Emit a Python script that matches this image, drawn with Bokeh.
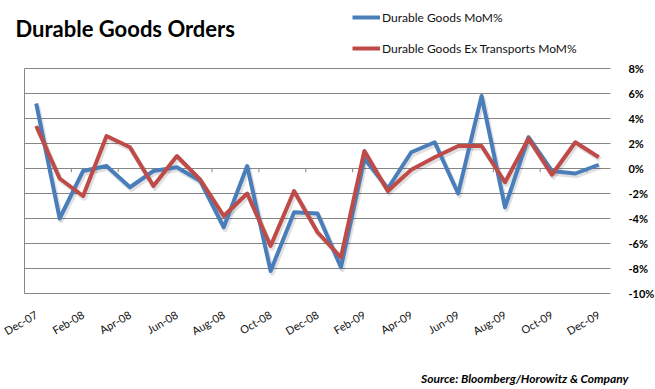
from bokeh.plotting import figure
from bokeh.models import (ColumnDataSource, Range1d, FixedTicker, Label,
                          Legend, LegendItem, CustomJSTickFormatter)
from bokeh.embed import file_html
from bokeh.resources import INLINE
import math

months = ["Dec-07", "Jan-08", "Feb-08", "Mar-08", "Apr-08", "May-08", "Jun-08", "Jul-08",
          "Aug-08", "Sep-08", "Oct-08", "Nov-08", "Dec-08", "Jan-09", "Feb-09", "Mar-09",
          "Apr-09", "May-09", "Jun-09", "Jul-09", "Aug-09", "Sep-09", "Oct-09", "Nov-09", "Dec-09"]
durable = [5.2, -4.0, -0.2, 0.2, -1.5, -0.2, 0.1, -1.0, -4.7, 0.2, -8.2, -3.5, -3.6,
           -7.9, 0.8, -1.6, 1.3, 2.1, -2.0, 5.8, -3.1, 2.5, -0.2, -0.4, 0.3]
ex_transport = [3.4, -0.8, -2.2, 2.6, 1.7, -1.4, 1.0, -0.9, -3.8, -2.0, -6.2, -1.8, -5.1,
                -7.1, 1.4, -1.8, -0.1, 0.9, 1.8, 1.8, -1.1, 2.4, -0.5, 2.1, 0.9]
y_ticks = [-10, -8, -6, -4, -2, 0, 2, 4, 6, 8]

idx = list(range(len(months)))
src = ColumnDataSource(dict(x=idx, m=months, a=durable, b=ex_transport))

BLUE = "#4A7EBB"
RED = "#BE4B48"
GRID = "#868686"
FONT = "Lato"

x_lo, x_hi = -0.5, len(months) - 0.5

# frame spans the whole canvas so title, legend and source can live inside it
p = figure(width=655, height=389, output_backend="svg", toolbar_location=None,
           x_range=Range1d(x_lo - 1.024, x_hi + 1.92), y_range=Range1d(-17.68, 13.44),
           y_axis_location="right", min_border_left=0, min_border_top=0,
           min_border_bottom=0, min_border_right=0)
p.outline_line_color = None
p.background_fill_color = "white"
p.border_fill_color = "white"
p.xgrid.visible = False
p.ygrid.visible = False

# horizontal gridlines and left axis line
p.segment(x0=[x_lo] * len(y_ticks), y0=y_ticks, x1=[x_hi] * len(y_ticks), y1=y_ticks,
          line_color=GRID, line_width=1)
p.segment(x0=[x_lo], y0=[y_ticks[0]], x1=[x_lo], y1=[y_ticks[-1]], line_color=GRID, line_width=1)

# small tick marks on the zero line between category pairs
tick_x = [i - 0.5 for i in idx[::2]]
p.segment(x0=tick_x, y0=[0] * len(tick_x), x1=tick_x, y1=[-0.3] * len(tick_x),
          line_color=GRID, line_width=1)

# right y axis, pinned to the right edge of the plot area
ya = p.yaxis[0]
ya.fixed_location = x_hi
ya.ticker = FixedTicker(ticks=y_ticks)
ya.formatter = CustomJSTickFormatter(code="return tick + '%';")
ya.axis_line_color = None
ya.major_tick_line_color = None
ya.minor_tick_line_color = None
ya.major_label_text_font = FONT
ya.major_label_text_font_style = "bold"
ya.major_label_text_font_size = "11px"
ya.major_label_text_color = "black"
ya.major_label_standoff = 12

# bottom axis with rotated labels, pinned to the -10% line
xa = p.xaxis[0]
xa.fixed_location = y_ticks[0]
xa.ticker = FixedTicker(ticks=idx[::2])
xa.major_label_overrides = {i: months[i] for i in idx[::2]}
xa.major_label_orientation = math.pi / 6
xa.axis_line_color = None
xa.major_tick_line_color = None
xa.minor_tick_line_color = None
xa.major_label_text_font = FONT
xa.major_label_text_font_size = "11px"
xa.major_label_text_color = "#111111"
xa.major_label_standoff = 14

# shadows
sx = [i + 0.06 for i in idx]
p.line(sx, [v - 0.18 for v in durable], line_color="#000000", line_alpha=0.12,
       line_width=5, line_join="round")
p.line(sx, [v - 0.18 for v in ex_transport], line_color="#000000", line_alpha=0.12,
       line_width=5, line_join="round")

r1 = p.line("x", "a", source=src, line_color=BLUE, line_width=4, line_join="round")
r2 = p.line("x", "b", source=src, line_color=RED, line_width=4, line_join="round")

legend = Legend(items=[LegendItem(label="Durable Goods MoM%", renderers=[r1]),
                       LegendItem(label="Durable Goods Ex Transports MoM%", renderers=[r2])],
                location=(352, 331), orientation="vertical")
legend.border_line_color = None
legend.background_fill_alpha = 0
legend.glyph_width = 28
legend.glyph_height = 20
legend.label_height = 20
legend.label_standoff = 2
legend.spacing = 11
legend.padding = 0
legend.margin = 0
legend.label_text_font = FONT
legend.label_text_font_size = "12px"
legend.label_text_color = "#111111"
p.add_layout(legend, "center")

title = Label(x=15, y=361, x_units="screen", y_units="screen", text="Durable Goods Orders",
              text_font=FONT, text_font_style="bold", text_font_size="22px",
              text_baseline="middle", text_align="left", text_color="black")
p.add_layout(title)

source = Label(x=628, y=11, x_units="screen", y_units="screen",
               text="Source: Bloomberg/Horowitz & Company",
               text_font=FONT, text_font_style="bold italic", text_font_size="12px",
               text_baseline="middle", text_align="right", text_color="black")
p.add_layout(source)

open("out.html", "w").write(file_html(p, INLINE))
